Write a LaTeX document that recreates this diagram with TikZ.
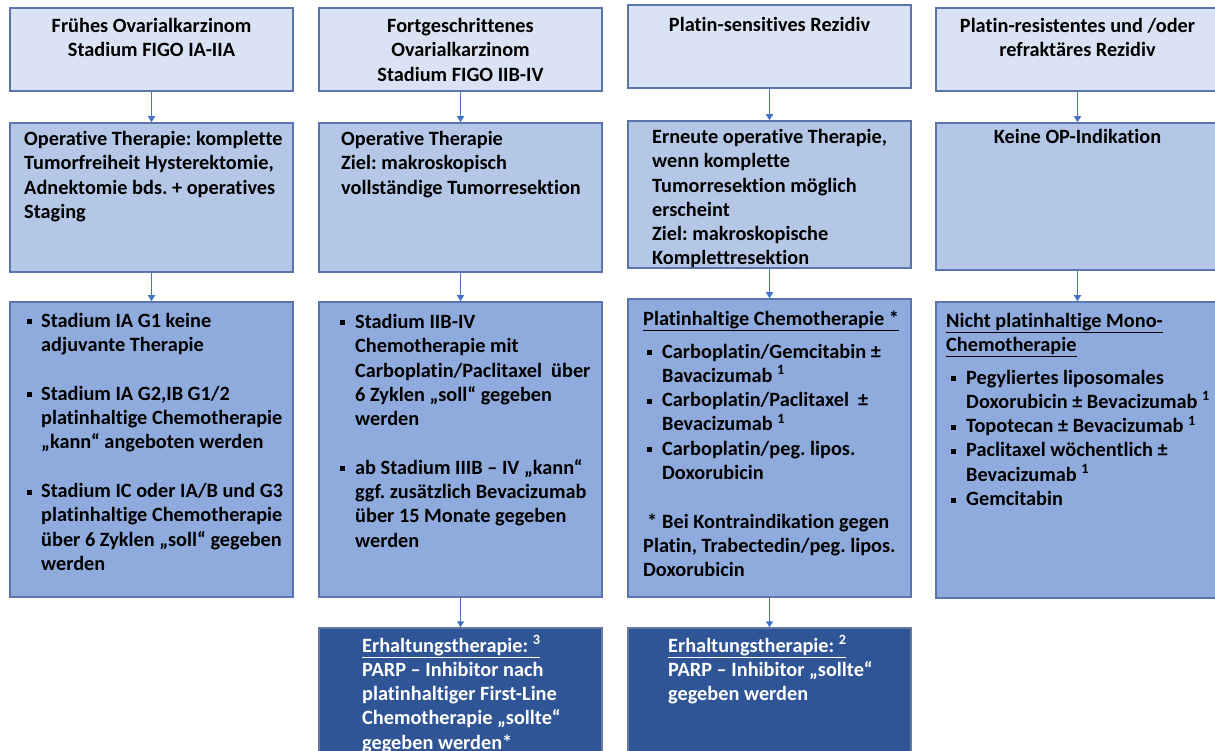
\documentclass[tikz,border=0pt]{standalone}
\usepackage{fontspec}
\setmainfont[Ligatures=NoCommon]{Carlito}
\usetikzlibrary{arrows.meta,fit}
\frenchspacing
\definecolor{bordc}{HTML}{5B75AC}
\definecolor{fillA}{HTML}{DAE3F3}
\definecolor{fillB}{HTML}{B4C7E7}
\definecolor{fillC}{HTML}{8FAADC}
\definecolor{fillD}{HTML}{2F5597}
\definecolor{arrc}{HTML}{4472C4}
\newcommand{\bul}{\makebox[15pt][l]{\raisebox{3pt}{\rule{5pt}{5pt}}}}
\newcommand{\bulx}{\makebox[14pt][l]{\raisebox{3pt}{\rule{5pt}{5pt}}}}
\tikzset{
  box/.style={draw=bordc, line width=1.5pt, inner sep=0pt},
  boxA/.style={box, fill=fillA},
  boxB/.style={box, fill=fillB},
  boxC/.style={box, fill=fillC},
  boxD/.style={box, fill=fillD, draw=bordc!70!gray},
  txt/.style={inner sep=0pt, font=\fontsize{20.3}{24.3}\selectfont\bfseries\frenchspacing, text=black},
  ctxt/.style={txt, align=center, anchor=north},
  ltxt/.style={txt, align=left, anchor=north west},
  wtxt/.style={ltxt, text=white},
  arr/.style={draw=arrc, line width=1.5pt, -{Triangle[length=6pt,width=7pt]}}
}
\begin{document}
\begin{tikzpicture}[x=1pt,y=-1pt]
\useasboundingbox (0,0) rectangle (1215,751);
\clip (0,0) rectangle (1215,751);
% row 1
\node[boxA, fit={(10,8)(293,91)}] (a1) {};
\node[boxA, fit={(319,8)(602,91)}] (a2) {};
\node[boxA, fit={(628,5)(911,88)}] (a3) {};
\node[boxA, fit={(936,8)(1219,91)}] (a4) {};
% row 2
\node[boxB, fit={(10,123)(293,272)}] (b1) {};
\node[boxB, fit={(319,123)(602,272)}] (b2) {};
\node[boxB, fit={(628,121)(911,268)}] (b3) {};
\node[boxB, fit={(936,123)(1219,270)}] (b4) {};
% row 3
\node[boxC, fit={(10,302)(293,597)}] (c1) {};
\node[boxC, fit={(319,302)(602,597)}] (c2) {};
\node[boxC, fit={(628,299)(911,597)}] (c3) {};
\node[boxC, fit={(936,302)(1219,598)}] (c4) {};
% row 4
\node[boxD, fit={(319,628)(602,770)}] (d2) {};
\node[boxD, fit={(628,628)(911,770)}] (d3) {};
% arrows
\draw[arr] (a1.south) -- (b1.north);
\draw[arr] (a2.south) -- (b2.north);
\draw[arr] (a3.south) -- (b3.north);
\draw[arr] (a4.south) -- (b4.north);
\draw[arr] (b1.south) -- (c1.north);
\draw[arr] (b2.south) -- (c2.north);
\draw[arr] (b3.south) -- (c3.north);
\draw[arr] (b4.south) -- (c4.north);
\draw[arr] (c2.south) -- (d2.north);
\draw[arr] (c3.south) -- (d3.north);
% row 1 texts
\node[ctxt] (ta1) at (151.5,18) {Frühes Ovarialkarzinom\\Stadium FIGO IA-IIA};
\node[ctxt] (ta2) at (460.5,18) {Fortgeschrittenes\\Ovarialkarzinom\\Stadium FIGO IIB-IV};
\node[ctxt] (ta3) at (769.5,17) {Platin-sensitives Rezidiv};
\node[ctxt] (ta4) at (1077.5,18) {Platin-resistentes und /oder\\refraktäres Rezidiv};
% row 2 texts
\node[ltxt] (tb1) at (24,131) {Operative Therapie: komplette\\Tumorfreiheit Hysterektomie,\\Adnektomie bds. + operatives\\Staging};
\node[ltxt] (tb2) at (341,131) {Operative Therapie\\Ziel: makroskopisch\\vollständige Tumorresektion};
\node[ltxt] (tb3) at (652,129) {Erneute operative Therapie,\\wenn komplette\\Tumorresektion möglich\\erscheint\\Ziel: makroskopische\\Komplettresektion};
\node[ctxt] (tb4) at (1077.5,129) {Keine OP-Indikation};
% row 3 texts
\node[ltxt] (tc1) at (27,313) {\bulx Stadium IA G1 keine\\\hspace*{14pt}adjuvante Therapie\\[24.3pt]
\bulx Stadium IA G2,IB G1/2\\\hspace*{14pt}platinhaltige Chemotherapie\\\hspace*{14pt}„kann“ angeboten werden\\[24.3pt]
\bulx Stadium IC oder IA/B und G3\\\hspace*{14pt}platinhaltige Chemotherapie\\\hspace*{14pt}über 6 Zyklen „soll“ gegeben\\\hspace*{14pt}werden};
\node[ltxt] (tc2) at (340,314) {\bul Stadium IIB-IV\\\hspace*{15pt}Chemotherapie mit\\\hspace*{15pt}Carboplatin/Paclitaxel\ \ über\\\hspace*{15pt}6 Zyklen „soll“ gegeben\\\hspace*{15pt}werden\\[24.3pt]
\bul ab Stadium IIIB – IV „kann“\\\hspace*{15pt}ggf. zusätzlich Bevacizumab\\\hspace*{15pt}über 15 Monate gegeben\\\hspace*{15pt}werden};
\node[ltxt] (tc3) at (643,311) {\underline{Platinhaltige Chemotherapie *}\\[8pt]
\hspace*{4pt}\bul Carboplatin/Gemcitabin ±\\\hspace*{19pt}Bavacizumab \textsuperscript{1}\\
\hspace*{4pt}\bul Carboplatin/Paclitaxel \ ±\\\hspace*{19pt}Bevacizumab \textsuperscript{1}\\
\hspace*{4pt}\bul Carboplatin/peg. lipos.\\\hspace*{19pt}Doxorubicin\\[24.3pt]
\hspace*{4pt}\makebox[15pt][l]{*}Bei Kontraindikation gegen\\Platin, Trabectedin/peg. lipos.\\Doxorubicin};
\node[ltxt] (tc4) at (946,313) {\underline{Nicht platinhaltige Mono-}\\\underline{Chemotherapie}\\[8pt]
\hspace*{5pt}\bul Pegyliertes liposomales\\\hspace*{20pt}Doxorubicin ± Bevacizumab \textsuperscript{1}\\
\hspace*{5pt}\bul Topotecan ± Bevacizumab \textsuperscript{1}\\
\hspace*{5pt}\bul Paclitaxel wöchentlich ±\\\hspace*{20pt}Bevacizumab \textsuperscript{1}\\
\hspace*{5pt}\bul Gemcitabin};
% row 4 texts
\node[wtxt] (td2) at (362,635) {\underline{Erhaltungstherapie: \textsuperscript{3}}\\PARP – Inhibitor nach\\platinhaltiger First-Line\\Chemotherapie „sollte“\\gegeben werden*};
\node[wtxt] (td3) at (668,635) {\underline{Erhaltungstherapie: \textsuperscript{2}}\\PARP – Inhibitor „sollte“\\gegeben werden};
\end{tikzpicture}
\end{document}
